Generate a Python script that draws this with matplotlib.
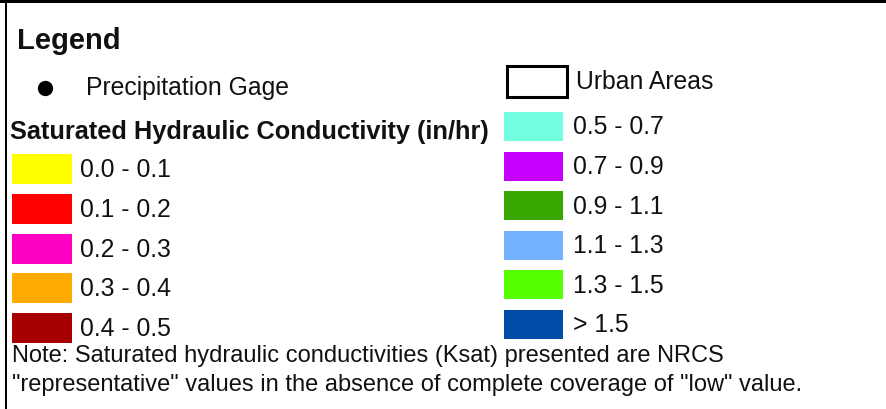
import matplotlib
matplotlib.use("Agg")
import matplotlib.pyplot as plt
from matplotlib.patches import Rectangle

plt.rcParams['font.family'] = ['Liberation Sans', 'DejaVu Sans']

# legend data
left_labels = ["0.0 - 0.1", "0.1 - 0.2", "0.2 - 0.3", "0.3 - 0.4", "0.4 - 0.5"]
left_colors = ["#FFFF00", "#FF0000", "#FF00C5", "#FFAA00", "#A80000"]
right_labels = ["0.5 - 0.7", "0.7 - 0.9", "0.9 - 1.1", "1.1 - 1.3", "1.3 - 1.5", "> 1.5"]
right_colors = ["#73FFDF", "#C500FF", "#38A800", "#73B2FF", "#55FF00", "#004DA8"]
note_lines = [
    "Note: Saturated hydraulic conductivities (Ksat) presented are NRCS",
    "\"representative\" values in the absence of complete coverage of \"low\" value.",
]

fig = plt.figure(figsize=(8.86, 4.09), dpi=100)
ax = fig.add_axes([0, 0, 1, 1])
ax.set_xlim(0, 886)
ax.set_ylim(409, 0)
ax.axis("off")

# frame (top and left only visible)
ax.add_patch(Rectangle((0, 0), 886, 2.5, color="black", lw=0))
ax.add_patch(Rectangle((5, 0), 2.5, 409, color="black", lw=0))

txt = "#111111"
ax.text(17, 41, "Legend", fontsize=21, fontweight="bold", va="center", color=txt)

# precipitation gage
ax.plot([45], [88], "o", color="black", markersize=10)
ax.text(86, 88.5, "Precipitation Gage", fontsize=17.8, va="center", color=txt)

# urban areas
ax.add_patch(Rectangle((507, 66), 60, 31, fill=False, ec="black", lw=2.2))
ax.text(576, 82, "Urban Areas", fontsize=17.8, va="center", color=txt)

ax.text(10, 131.5, "Saturated Hydraulic Conductivity (in/hr)", fontsize=18.3,
        fontweight="bold", va="center", color=txt)

# left column
for i, (lab, col) in enumerate(zip(left_labels, left_colors)):
    yc = 169 + i * 39.8
    ax.add_patch(Rectangle((12, yc - 15), 60, 30, color=col, lw=0))
    ax.text(80, yc + 1, lab, fontsize=17.8, va="center", color=txt)

# right column
for i, (lab, col) in enumerate(zip(right_labels, right_colors)):
    yc = 126.5 + i * 39.6
    ax.add_patch(Rectangle((504, yc - 14.5), 59, 29, color=col, lw=0))
    ax.text(573, yc + 1, lab, fontsize=17.8, va="center", color=txt)

# note
for i, line in enumerate(note_lines):
    ax.text(12, 356 + i * 29, line, fontsize=17, va="center", color=txt)

fig.savefig("out.png", dpi=100)
